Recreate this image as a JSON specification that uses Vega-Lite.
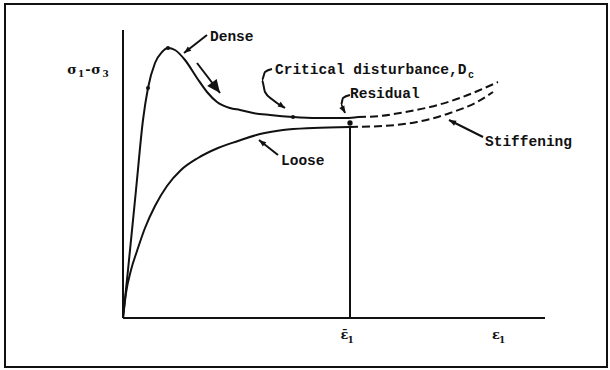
{
  "$schema": "https://vega.github.io/schema/vega-lite/v6.json",
  "width": 610,
  "height": 370,
  "padding": 0,
  "autosize": {"type": "fit", "contains": "padding"},
  "background": "white",
  "config": {"view": {"stroke": null}},
  "datasets": {
    "frame": [{"x": -118, "x2": 484, "y": -49, "y2": 314}],
    "axes": [
      {"name": "stress", "x": 0, "y": 0, "x2": 0, "y2": 288},
      {"name": "strain", "x": 0, "y": 0, "x2": 422, "y2": 0},
      {"name": "residual strain", "x": 227, "y": 0, "x2": 227, "y2": 190}
    ],
    "curves": [
      {"curve": "dense", "i": 0, "x": 0, "y": 0},
      {"curve": "dense", "i": 1, "x": 5, "y": 48},
      {"curve": "dense", "i": 2, "x": 13, "y": 128},
      {"curve": "dense", "i": 3, "x": 20, "y": 198},
      {"curve": "dense", "i": 4, "x": 25, "y": 230},
      {"curve": "dense", "i": 5, "x": 32, "y": 255},
      {"curve": "dense", "i": 6, "x": 39, "y": 266},
      {"curve": "dense", "i": 7, "x": 45, "y": 270},
      {"curve": "dense", "i": 8, "x": 52, "y": 268},
      {"curve": "dense", "i": 9, "x": 62, "y": 258},
      {"curve": "dense", "i": 10, "x": 74, "y": 240},
      {"curve": "dense", "i": 11, "x": 84, "y": 226},
      {"curve": "dense", "i": 12, "x": 94, "y": 216},
      {"curve": "dense", "i": 13, "x": 107, "y": 210},
      {"curve": "dense", "i": 14, "x": 117, "y": 208},
      {"curve": "dense", "i": 15, "x": 130, "y": 205},
      {"curve": "dense", "i": 16, "x": 147, "y": 203},
      {"curve": "dense", "i": 17, "x": 170, "y": 201},
      {"curve": "dense", "i": 18, "x": 194, "y": 200},
      {"curve": "dense", "i": 19, "x": 224, "y": 200},
      {"curve": "dense", "i": 20, "x": 235, "y": 201},
      {"curve": "loose", "i": 0, "x": 0, "y": 0},
      {"curve": "loose", "i": 1, "x": 3, "y": 25},
      {"curve": "loose", "i": 2, "x": 8, "y": 48},
      {"curve": "loose", "i": 3, "x": 14, "y": 67},
      {"curve": "loose", "i": 4, "x": 22, "y": 90},
      {"curve": "loose", "i": 5, "x": 32, "y": 112},
      {"curve": "loose", "i": 6, "x": 44, "y": 132},
      {"curve": "loose", "i": 7, "x": 58, "y": 148},
      {"curve": "loose", "i": 8, "x": 75, "y": 160},
      {"curve": "loose", "i": 9, "x": 95, "y": 170},
      {"curve": "loose", "i": 10, "x": 115, "y": 177},
      {"curve": "loose", "i": 11, "x": 137, "y": 184},
      {"curve": "loose", "i": 12, "x": 160, "y": 188},
      {"curve": "loose", "i": 13, "x": 190, "y": 190},
      {"curve": "loose", "i": 14, "x": 227, "y": 191},
      {"curve": "dense stiffening", "i": 0, "x": 235, "y": 201},
      {"curve": "dense stiffening", "i": 1, "x": 257, "y": 202},
      {"curve": "dense stiffening", "i": 2, "x": 277, "y": 205},
      {"curve": "dense stiffening", "i": 3, "x": 307, "y": 211},
      {"curve": "dense stiffening", "i": 4, "x": 337, "y": 220},
      {"curve": "dense stiffening", "i": 5, "x": 357, "y": 228},
      {"curve": "dense stiffening", "i": 6, "x": 375, "y": 236},
      {"curve": "loose stiffening", "i": 0, "x": 227, "y": 191},
      {"curve": "loose stiffening", "i": 1, "x": 260, "y": 192},
      {"curve": "loose stiffening", "i": 2, "x": 294, "y": 196},
      {"curve": "loose stiffening", "i": 3, "x": 327, "y": 205},
      {"curve": "loose stiffening", "i": 4, "x": 354, "y": 216},
      {"curve": "loose stiffening", "i": 5, "x": 370, "y": 226}
    ],
    "dots": [
      {"state": "dense", "x": 25, "y": 230, "big": false},
      {"state": "peak", "x": 45, "y": 270, "big": false},
      {"state": "critical disturbance", "x": 170, "y": 201, "big": false},
      {"state": "residual", "x": 227, "y": 195, "big": true}
    ],
    "arrows": [
      {"arrow": "dense", "kind": "small", "i": 0, "x": 84, "y": 283},
      {"arrow": "dense", "kind": "small", "i": 1, "x": 61, "y": 265},
      {"arrow": "softening", "kind": "big", "i": 0, "x": 74, "y": 255},
      {"arrow": "softening", "kind": "big", "i": 1, "x": 97, "y": 225},
      {"arrow": "loose", "kind": "small", "i": 0, "x": 155, "y": 163},
      {"arrow": "loose", "kind": "small", "i": 1, "x": 136, "y": 178},
      {"arrow": "stiffening", "kind": "small", "i": 0, "x": 360, "y": 181},
      {"arrow": "stiffening", "kind": "small", "i": 1, "x": 326, "y": 198},
      {"arrow": "critical", "kind": "small", "i": 0, "x": 149, "y": 249},
      {"arrow": "critical", "kind": "small", "i": 1, "x": 142, "y": 246},
      {"arrow": "critical", "kind": "small", "i": 2, "x": 139, "y": 238},
      {"arrow": "critical", "kind": "small", "i": 3, "x": 142, "y": 226},
      {"arrow": "critical", "kind": "small", "i": 4, "x": 150, "y": 218},
      {"arrow": "critical", "kind": "small", "i": 5, "x": 162, "y": 210},
      {"arrow": "residual", "kind": "small", "i": 0, "x": 227, "y": 223},
      {"arrow": "residual", "kind": "small", "i": 1, "x": 220, "y": 220},
      {"arrow": "residual", "kind": "small", "i": 2, "x": 218, "y": 213},
      {"arrow": "residual", "kind": "small", "i": 3, "x": 222, "y": 205}
    ],
    "labels": [
      {"text": "Dense", "x": 87, "y": 281},
      {"text": "Critical disturbance,D", "x": 152, "y": 248},
      {"text": "Residual", "x": 227, "y": 224},
      {"text": "Loose", "x": 158, "y": 157},
      {"text": "Stiffening", "x": 362, "y": 176}
    ],
    "math": [
      {"text": "σ", "x": -51, "y": 248},
      {"text": "-", "x": -35, "y": 248},
      {"text": "σ", "x": -27, "y": 248},
      {"text": "ε̄", "x": 221.5, "y": -17},
      {"text": "ε", "x": 373, "y": -17}
    ],
    "subscripts": [
      {"text": "1", "x": -42, "y": 244},
      {"text": "3", "x": -17.5, "y": 244},
      {"text": "1", "x": 227.5, "y": -22},
      {"text": "1", "x": 379, "y": -22}
    ]
  },
  "encoding": {
    "x": {"type": "quantitative", "scale": {"domain": [-123, 487], "nice": false, "zero": false}, "axis": null},
    "y": {"type": "quantitative", "scale": {"domain": [-52, 318], "nice": false, "zero": false}, "axis": null}
  },
  "layer": [
    {
      "data": {"name": "frame"},
      "mark": {"type": "rect", "fill": null, "stroke": "#111", "strokeWidth": 2},
      "encoding": {"x": {"field": "x"}, "x2": {"field": "x2"}, "y": {"field": "y"}, "y2": {"field": "y2"}}
    },
    {
      "data": {"name": "axes"},
      "mark": {"type": "rule", "stroke": "#111", "strokeWidth": 2},
      "encoding": {"x": {"field": "x"}, "x2": {"field": "x2"}, "y": {"field": "y"}, "y2": {"field": "y2"}}
    },
    {
      "data": {"name": "curves"},
      "transform": [{"filter": "indexof(datum.curve, 'stiffening') < 0"}],
      "mark": {"type": "line", "interpolate": "monotone", "stroke": "#111", "strokeWidth": 2},
      "encoding": {"x": {"field": "x"}, "y": {"field": "y"}, "detail": {"field": "curve"}, "order": {"field": "i"}}
    },
    {
      "data": {"name": "curves"},
      "transform": [{"filter": "indexof(datum.curve, 'stiffening') >= 0"}],
      "mark": {"type": "line", "interpolate": "monotone", "stroke": "#111", "strokeWidth": 2, "strokeDash": [8, 4]},
      "encoding": {"x": {"field": "x"}, "y": {"field": "y"}, "detail": {"field": "curve"}, "order": {"field": "i"}}
    },
    {
      "data": {"name": "dots"},
      "mark": {"type": "point", "filled": true, "color": "#111", "opacity": 1},
      "encoding": {
        "x": {"field": "x"}, "y": {"field": "y"},
        "size": {"field": "big", "type": "nominal", "scale": {"domain": [false, true], "range": [16, 28]}, "legend": null}
      }
    },
    {
      "data": {"name": "arrows"},
      "mark": {"type": "line", "interpolate": "monotone", "stroke": "#111", "strokeWidth": 2},
      "encoding": {"x": {"field": "x"}, "y": {"field": "y"}, "detail": {"field": "arrow"}, "order": {"field": "i"}}
    },
    {
      "data": {"name": "arrows"},
      "transform": [
        {"window": [{"op": "lag", "field": "x", "as": "px"}, {"op": "lag", "field": "y", "as": "py"}], "groupby": ["arrow"], "sort": [{"field": "i"}]},
        {"joinaggregate": [{"op": "max", "field": "i", "as": "last"}], "groupby": ["arrow"]},
        {"filter": "datum.i == datum.last && datum.kind == 'small'"},
        {"calculate": "atan2(datum.x - datum.px, datum.y - datum.py) * 180 / PI", "as": "ang"}
      ],
      "mark": {"type": "point", "shape": "M0,0L0.4,1L-0.4,1Z", "filled": true, "color": "#111", "opacity": 1, "size": 200},
      "encoding": {"x": {"field": "x"}, "y": {"field": "y"}, "angle": {"field": "ang", "type": "quantitative", "scale": null}}
    },
    {
      "data": {"name": "arrows"},
      "transform": [
        {"window": [{"op": "lag", "field": "x", "as": "px"}, {"op": "lag", "field": "y", "as": "py"}], "groupby": ["arrow"], "sort": [{"field": "i"}]},
        {"joinaggregate": [{"op": "max", "field": "i", "as": "last"}], "groupby": ["arrow"]},
        {"filter": "datum.i == datum.last && datum.kind == 'big'"},
        {"calculate": "atan2(datum.x - datum.px, datum.y - datum.py) * 180 / PI", "as": "ang"}
      ],
      "mark": {"type": "point", "shape": "M0,0L0.45,1L-0.45,1Z", "filled": true, "color": "#111", "opacity": 1, "size": 700},
      "encoding": {"x": {"field": "x"}, "y": {"field": "y"}, "angle": {"field": "ang", "type": "quantitative", "scale": null}}
    },
    {
      "data": {"name": "labels"},
      "mark": {"type": "text", "align": "left", "baseline": "middle", "font": "Liberation Mono", "fontWeight": "bold", "fontSize": 14.5, "color": "#111"},
      "encoding": {"x": {"field": "x"}, "y": {"field": "y"}, "text": {"field": "text"}}
    },
    {
      "data": {"values": [{"text": "c", "x": 345, "y": 243}]},
      "mark": {"type": "text", "align": "left", "baseline": "middle", "font": "Liberation Mono", "fontWeight": "bold", "fontSize": 10, "color": "#111"},
      "encoding": {"x": {"field": "x"}, "y": {"field": "y"}, "text": {"field": "text"}}
    },
    {
      "data": {"name": "math"},
      "mark": {"type": "text", "align": "center", "baseline": "middle", "font": "DejaVu Serif", "fontWeight": "bold", "fontSize": 13, "color": "#111"},
      "encoding": {"x": {"field": "x"}, "y": {"field": "y"}, "text": {"field": "text"}}
    },
    {
      "data": {"name": "subscripts"},
      "mark": {"type": "text", "align": "center", "baseline": "middle", "font": "DejaVu Serif", "fontWeight": "bold", "fontSize": 9, "color": "#111"},
      "encoding": {"x": {"field": "x"}, "y": {"field": "y"}, "text": {"field": "text"}}
    }
  ]
}
